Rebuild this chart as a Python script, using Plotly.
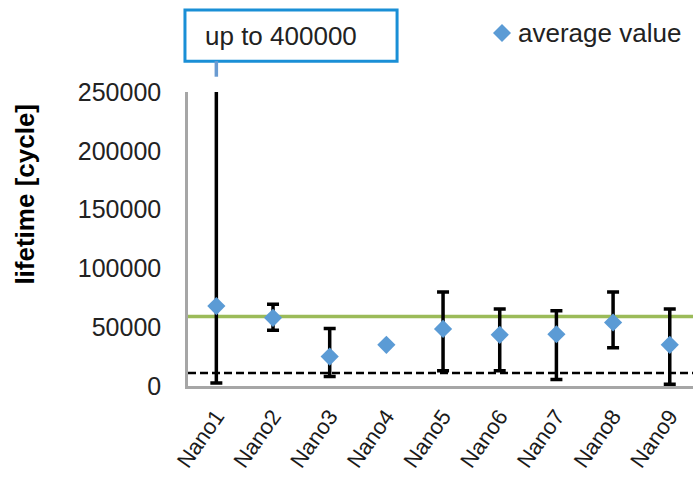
import plotly.graph_objects as go

# Lifetime test results per sample
samples = ["Nano1", "Nano2", "Nano3", "Nano4", "Nano5", "Nano6", "Nano7", "Nano8", "Nano9"]
avg_life = [68000, 58000, 25000, 35000, 48500, 43500, 44000, 54000, 35000]
max_life = [400000, 69500, 49000, None, 80000, 65500, 64000, 80000, 65500]
min_life = [2500, 47500, 8000, None, 13000, 13000, 5500, 32500, 1500]

target_life = 59000     # green reference level
minimum_life = 11000    # dashed lower limit

y_ticks = [0, 50000, 100000, 150000, 200000, 250000]

err_plus = [None if hi is None else hi - a for hi, a in zip(max_life, avg_life)]
err_minus = [None if lo is None else a - lo for lo, a in zip(min_life, avg_life)]

FONT = "Liberation Sans, Arial, sans-serif"
DIAMOND = "#5B9BD5"

fig = go.Figure()

fig.add_trace(go.Scatter(
    x=samples, y=avg_life,
    mode="markers",
    name="average value",
    showlegend=False,
    marker=dict(symbol="diamond", size=14, color=DIAMOND),
    error_y=dict(type="data", symmetric=False, array=err_plus, arrayminus=err_minus,
                 color="black", thickness=3.5, width=6),
    cliponaxis=True,
))

# horizontal reference levels
fig.add_shape(type="line", xref="paper", yref="y", x0=0, x1=1,
              y0=target_life, y1=target_life,
              line=dict(color="#9BBB59", width=3.5), layer="below")
fig.add_shape(type="line", xref="paper", yref="y", x0=0, x1=1,
              y0=minimum_life, y1=minimum_life,
              line=dict(color="black", width=2.5, dash="8px,4px"), layer="below")

# callout for the clipped maximum of the first sample
fig.add_shape(type="rect", xref="paper", yref="paper",
              x0=-0.006, x1=0.414, y0=1.105, y1=1.279,
              line=dict(color="#1A8FD6", width=3), fillcolor="white")
fig.add_shape(type="line", xref="x", yref="paper",
              x0=samples[0], x1=samples[0], y0=1.052, y1=1.105,
              line=dict(color="#6A9BD1", width=3.5))
fig.add_annotation(xref="paper", yref="paper", x=0.030, y=1.192,
                   xanchor="left", yanchor="middle", showarrow=False,
                   text=f"up to {max_life[0]}",
                   font=dict(family=FONT, size=26, color="#222222"))

# legend key for the markers
lx, ly, hx, hy = 0.6218, 1.2007, 0.0178, 0.0306
fig.add_shape(type="path", xref="paper", yref="paper",
              path=f"M {lx - hx},{ly} L {lx},{ly + hy} L {lx + hx},{ly} L {lx},{ly - hy} Z",
              fillcolor=DIAMOND, line=dict(width=0))
fig.add_annotation(xref="paper", yref="paper", x=0.650, y=ly,
                   xanchor="left", yanchor="middle", showarrow=False,
                   text="average value",
                   font=dict(family=FONT, size=26, color="#222222"))

# y-axis title
fig.add_annotation(xref="paper", yref="paper", x=-0.323, y=0.654,
                   xanchor="center", yanchor="middle", showarrow=False,
                   textangle=-90, text="<b>lifetime [cycle]</b>",
                   font=dict(family=FONT, size=26, color="black"))

fig.update_layout(
    width=693, height=481,
    margin=dict(l=188, r=0, t=92, b=95),
    paper_bgcolor="white", plot_bgcolor="white",
    showlegend=False,
    font=dict(family=FONT),
)

fig.update_xaxes(
    type="category", range=[-0.5, 8.41], automargin=False,
    showline=True, linecolor="#A6A6A6", linewidth=2.5,
    showgrid=False, zeroline=False, ticks="",
    tickangle=-55,
    tickfont=dict(family=FONT, size=22, color="#1A1A1A"),
    ticklabelstandoff=6,
)
fig.update_yaxes(
    range=[0, 250000], tickvals=y_ticks, ticktext=[str(v) for v in y_ticks],
    automargin=False,
    showline=True, linecolor="#A6A6A6", linewidth=2.5,
    showgrid=False, zeroline=False, ticks="",
    tickfont=dict(family=FONT, size=25, color="#222222"),
    ticklabelstandoff=19,
)

fig.write_html("out.html")
